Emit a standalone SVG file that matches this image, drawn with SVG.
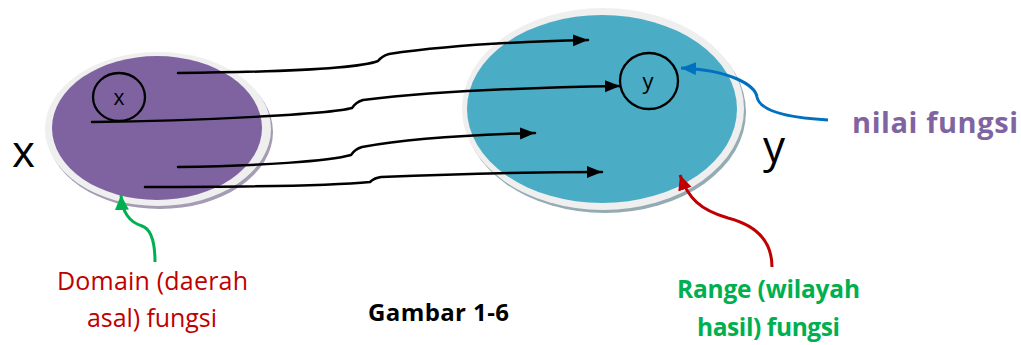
<svg xmlns="http://www.w3.org/2000/svg" width="1021" height="345" viewBox="0 0 1021 345">
  <defs>
    <style>
      text { font-family: "Open Sans", "Liberation Sans", sans-serif; }
      .conn { fill: none; stroke: #000; stroke-width: 2.5; stroke-linecap: round; }
      .rim { fill: #efefef; }
      .big { font-size: 44px; fill: #000; }
      .small { font-size: 21px; fill: #000; text-anchor: middle; }
      .ring { fill: none; stroke: #000; stroke-width: 2.3; }
      .domain { font-size: 25px; fill: #C00000; }
      .range { font-size: 24.5px; font-weight: bold; fill: #00B050; }
      .title { font-size: 24px; font-weight: bold; fill: #000; }
      .nilai { font-size: 29px; font-weight: bold; fill: #8064A2; }
    </style>
    <marker id="arrBlack" markerUnits="userSpaceOnUse" markerWidth="16" markerHeight="13" refX="15" refY="6" orient="auto">
      <path d="M0,0 L15,6 L0,12 z" fill="#000"/>
    </marker>
    <marker id="arrBlue" markerUnits="userSpaceOnUse" markerWidth="16" markerHeight="14" refX="15" refY="6.5" orient="auto">
      <path d="M0,0 L15,6.5 L0,13 z" fill="#0070C0"/>
    </marker>
    <marker id="arrGreen" markerUnits="userSpaceOnUse" markerWidth="16" markerHeight="15" refX="15" refY="7" orient="auto">
      <path d="M0,0 L15,7 L0,14 z" fill="#00B050"/>
    </marker>
    <marker id="arrRed" markerUnits="userSpaceOnUse" markerWidth="16" markerHeight="15" refX="15" refY="7" orient="auto">
      <path d="M0,0 L15,7 L0,14 z" fill="#C00000"/>
    </marker>
  </defs>

  <rect width="1021" height="345" fill="#fff"/>

  <!-- domain set X -->
  <g id="domain-set">
    <ellipse cx="160" cy="132" rx="113" ry="77" fill="#a59cb4"/>
    <ellipse class="rim" cx="158" cy="129" rx="113" ry="77"/>
    <ellipse cx="157" cy="128" rx="105" ry="72" fill="#7F63A1"/>
  </g>
  <g id="element-x">
    <ellipse class="ring" cx="119" cy="97" rx="26" ry="24"/>
    <text class="small" x="119" y="105">x</text>
  </g>

  <!-- range set Y -->
  <g id="range-set">
    <ellipse cx="605" cy="112" rx="141" ry="101" fill="#95abb4"/>
    <ellipse class="rim" cx="603" cy="109" rx="141" ry="101"/>
    <ellipse cx="602" cy="109" rx="135" ry="94" fill="#4AACC5"/>
  </g>
  <g id="element-y">
    <ellipse class="ring" cx="649" cy="81" rx="29" ry="28"/>
    <text class="small" x="648" y="89" style="font-size:22px">y</text>
  </g>

  <!-- mapping arrows and callout pointers -->
  <g id="connectors">
    <path class="conn" marker-end="url(#arrBlack)" d="M178,73 C280,72 360,68 378,61 Q382,56 389,54 C430,48 500,42 588,40"/>
    <path class="conn" marker-end="url(#arrBlack)" d="M92,122 C200,121 330,114 352,108 Q356,102 363,100 C420,93 500,88 620,86"/>
    <path class="conn" marker-end="url(#arrBlack)" d="M178,167 C260,166 330,161 351,155 Q355,149 362,147 C400,140 460,135 535,133"/>
    <path class="conn" marker-end="url(#arrBlack)" d="M145,187 C250,187 340,185 370,182 Q374,178 381,177 C450,174 520,172 602,172"/>
    <path fill="none" stroke="#0070C0" stroke-width="3" marker-end="url(#arrBlue)" d="M828,120 C790,118 760,112 757,97 C755,85 730,70 681,68"/>
    <path fill="none" stroke="#00B050" stroke-width="3" marker-end="url(#arrGreen)" d="M155,262 C155,240 151,229 142,226 C129,222 122,212 121,195"/>
    <path fill="none" stroke="#C00000" stroke-width="3" marker-end="url(#arrRed)" d="M772,267 C772,240 755,225 728,218 C700,210 688,198 680,175"/>
  </g>

  <!-- labels -->
  <g id="label-X"><text class="big" x="12" y="167">x</text></g>
  <g id="label-Y"><text class="big" x="763" y="162">y</text></g>
  <g id="label-nilai"><text class="nilai" x="852" y="133" textLength="166">nilai fungsi</text></g>
  <g id="label-domain">
    <text class="domain" x="57" y="290" textLength="191">Domain (daerah</text>
    <text class="domain" x="87" y="327" textLength="130">asal) fungsi</text>
  </g>
  <g id="label-range">
    <text class="range" x="677" y="298" textLength="183">Range (wilayah</text>
    <text class="range" x="697" y="336" textLength="143">hasil) fungsi</text>
  </g>
  <g id="caption"><text class="title" x="368" y="321" textLength="141">Gambar 1-6</text></g>
</svg>
